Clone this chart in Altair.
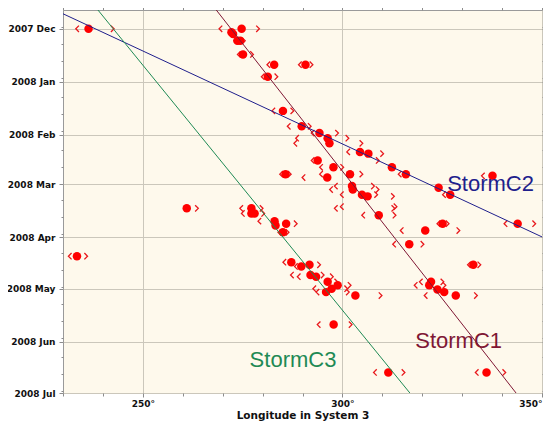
import altair as alt
import pandas as pd

# ---------------- observations: date, System III longitude, bracket limits ----------------
obs_date = [
    "2007-12-01", "2007-12-01", "2007-12-03", "2007-12-04", "2007-12-08",
    "2007-12-08", "2007-12-16", "2007-12-22", "2007-12-22", "2007-12-29",
    "2008-01-18", "2008-01-27", "2008-01-31", "2008-02-03", "2008-02-06",
    "2008-02-11", "2008-02-12", "2008-02-16", "2008-02-20", "2008-02-20",
    "2008-02-24", "2008-02-24", "2008-02-24", "2008-02-26", "2008-03-02",
    "2008-03-04", "2008-03-07", "2008-03-08", "2008-03-19", "2008-03-15",
    "2008-03-14", "2008-03-03", "2008-03-07", "2008-02-25", "2008-03-24",
    "2008-03-24", "2008-03-28", "2008-04-05", "2008-04-17", "2008-04-27",
    "2008-04-29", "2008-05-01T12:00", "2008-05-03", "2008-05-05", "2008-06-19",
    "2008-06-19", "2008-05-22", "2008-05-05", "2008-03-15", "2008-04-12",
    "2008-03-15", "2008-03-18", "2008-03-18", "2008-03-22T12:00", "2008-03-25",
    "2008-03-24", "2008-03-29", "2008-04-15T12:00", "2008-04-18", "2008-04-17",
    "2008-04-23", "2008-04-24", "2008-04-27", "2008-04-29", "2008-05-01",
    "2008-05-03",
]
obs_lon = [
    236.4, 274.75, 272.2, 272.6, 273.7,
    274.4, 275.1, 282.9, 290.75, 281.3,
    285.1, 289.8, 294.25, 296.3, 296.75,
    304.4, 306.5, 293.8, 297.75, 312.4,
    315.9, 285.75, 301.9, 296.2, 302.4,
    302.6, 304.9, 306.3, 309.1, None,
    None, 324.1, 327.0, 337.6, 343.9,
    325.1, 320.75, 316.75, 332.8, 322.2,
    321.75, 323.8, 325.5, 328.4, 311.5,
    336.1, 297.8, 303.25, 261.0, 233.5,
    277.2, 277.2, 278.0, 283.0, 283.25,
    285.9, 285.1, 287.2, 289.7, 291.75,
    292.0, 293.4, 296.3, 298.8, 297.3,
    295.9,
]
obs_lo = [
    233.6, 269.5, None, None, 273.2,
    None, 274.1, 281.5, 289.4, 280.1,
    282.75, 286.6, 292.6, 288.7, 288.25,
    301.5, None, 292.6, 294.7, None,
    314.4, 284.7, 294.7, 290.3, 298.4,
    297.2, 299.9, None, 305.25, 298.4,
    299.9, None, 325.5, 335.25, 340.9,
    324.1, 314.9, 313.0, 331.75, 319.7,
    318.4, None, None, 320.9, 308.2,
    333.7, 294.1, None, None, 231.75,
    274.7, None, 275.1, 279.25, None,
    None, 284.25, 285.5, 288.4, None,
    287.4, 289.1, None, None, 293.0,
    293.8,
]
obs_hi = [
    242.4, 278.8, None, None, None,
    275.25, 277.3, None, 292.2, 283.4,
    287.4, 291.75, 298.6, 301.2, 304.7,
    None, 309.9, 308.8, 299.9, None,
    None, 286.75, 304.7, None, 307.6,
    308.75, 308.4, 312.6, 313.0, 312.7,
    313.25, None, None, None, 348.0,
    326.3, 329.0, 320.0, 334.25, 325.0,
    325.5, None, None, 333.4, 315.25,
    340.5, 302.0, 309.5, 263.5, 235.75,
    279.7, None, 280.1, None, None,
    288.25, 286.2, None, None, 294.1,
    295.0, 297.3, 298.4, 301.75, 300.9,
    301.3,
]

# ---------------- storm drift lines ----------------
storm_names = ["StormC1", "StormC2", "StormC3"]
storm_colors = ["#7f1734", "#1f1f8c", "#1f8a55"]
storm_lon_start = [268.4, 230.0, 238.75]
storm_date_start = ["2007-11-20T00:00", "2007-11-22T05:00", "2007-11-20T00:00"]
storm_lon_end = [343.5, 350.0, 316.9]
storm_date_end = ["2008-07-01T00:00", "2008-03-31T17:00", "2008-07-01T00:00"]
storm_label_lon = [318.25, 326.25, 276.75]
storm_label_date = ["2008-06-04T17:00", "2008-03-04T19:00", "2008-06-16T00:00"]

# ---------------- axis tick values ----------------
x_tick_values = list(range(230, 351, 10))
major_months = [(2007, 12), (2008, 1), (2008, 2), (2008, 3), (2008, 4), (2008, 5), (2008, 6), (2008, 7)]
minor_days = [10, 20, 30]


def local(d):
    return d if "T" in d else d + "T00:00"


obs = pd.DataFrame({
    "date": [local(d) for d in obs_date],
    "lon": obs_lon, "lo": obs_lo, "hi": obs_hi,
})
dots_df = obs.dropna(subset=["lon"])[["date", "lon"]]
lo_df = obs.dropna(subset=["lo"])[["date", "lo"]]
hi_df = obs.dropna(subset=["hi"])[["date", "hi"]]

line_rows = []
for i, n in enumerate(storm_names):
    line_rows.append({"storm": n, "k": 0, "lon": storm_lon_start[i], "date": storm_date_start[i]})
    line_rows.append({"storm": n, "k": 1, "lon": storm_lon_end[i], "date": storm_date_end[i]})
lines_df = pd.DataFrame(line_rows)
labels_df = pd.DataFrame({"storm": storm_names, "lon": storm_label_lon, "date": storm_label_date})

y_tick_values = [alt.DateTime(year=y, month=m, date=1) for (y, m) in major_months]
for (y, m) in [(2007, 11)] + major_months[:-1]:
    for d in minor_days:
        if m == 2 and d == 30:
            continue
        if (y, m) == (2007, 11) and d < 30:
            continue
        y_tick_values.append(alt.DateTime(year=y, month=m, date=d))

MAJ_X = "datum.value % 50 === 0"
MAJ_Y = "date(datum.value) === 1"
TICK_COL = "#8c8c8c"
GRID_COL = "#cbc7bb"
LAB_FONT = "DejaVu Sans"

x_scale = alt.Scale(domain=[230, 350], nice=False, zero=False)
y_scale = alt.Scale(
    domain=[alt.DateTime(year=2007, month=11, date=20), alt.DateTime(year=2008, month=7, date=1)],
    reverse=True, nice=False,
)

x_axis_main = alt.Axis(
    orient="bottom", values=x_tick_values, title="Longitude in System 3",
    labelExpr="datum.value % 50 === 0 ? datum.value + '°' : ''",
    labelFlush=True, labelOverlap=False,
    labelFont=LAB_FONT, labelFontWeight="bold", labelFontSize=9, labelColor="#111111", labelPadding=2,
    titleFont=LAB_FONT, titleFontWeight="bold", titleFontSize=10.5, titleColor="#111111", titlePadding=2,
    domain=False, ticks=True, tickColor=TICK_COL,
    tickSize={"condition": {"test": MAJ_X, "value": 4}, "value": 3},
    grid=True, gridColor=GRID_COL, gridWidth=1,
    gridOpacity={"condition": {"test": MAJ_X, "value": 1}, "value": 0},
)
y_axis_main = alt.Axis(
    orient="left", values=y_tick_values, title=None,
    labelExpr="date(datum.value) === 1 ? timeFormat(datum.value, '%Y %b') : ''",
    labelOverlap=False, labelFlush=False,
    labelFont=LAB_FONT, labelFontWeight="bold", labelFontSize=9, labelColor="#111111", labelPadding=4,
    domain=False, ticks=True, tickColor=TICK_COL,
    tickSize={"condition": {"test": MAJ_Y, "value": 4}, "value": 2},
    grid=True, gridColor=GRID_COL, gridWidth=1,
    gridOpacity={"condition": {"test": MAJ_Y, "value": 1}, "value": 0},
)
x_axis_top = alt.Axis(
    orient="top", values=x_tick_values, title=None, labels=False, domain=False, grid=False,
    ticks=True, tickColor=TICK_COL,
    tickSize={"condition": {"test": MAJ_X, "value": 4}, "value": 3},
)
y_axis_right = alt.Axis(
    orient="right", values=y_tick_values, title=None, labels=False, domain=False, grid=False,
    ticks=True, tickColor=TICK_COL,
    tickSize={"condition": {"test": MAJ_Y, "value": 4}, "value": 2},
)

color_scale = alt.Scale(domain=storm_names, range=storm_colors)

left_br = alt.Chart(lo_df).mark_point(
    shape="M0.5,-1L-0.5,0L0.5,1", filled=False, size=40, strokeWidth=1.3, color="#e8181c", opacity=1
).encode(
    x=alt.X("lo:Q", scale=x_scale, axis=None),
    y=alt.Y("date:T", scale=y_scale, axis=None),
)
right_br = alt.Chart(hi_df).mark_point(
    shape="M-0.5,-1L0.5,0L-0.5,1", filled=False, size=40, strokeWidth=1.3, color="#e8181c", opacity=1
).encode(
    x=alt.X("hi:Q", scale=x_scale, axis=None),
    y=alt.Y("date:T", scale=y_scale, axis=None),
)
dots = alt.Chart(dots_df).mark_circle(size=72, color="#ff0000", opacity=1).encode(
    x=alt.X("lon:Q", scale=x_scale, axis=x_axis_top),
    y=alt.Y("date:T", scale=y_scale, axis=y_axis_right),
)
lines = alt.Chart(lines_df).mark_line(strokeWidth=1, clip=True).encode(
    x=alt.X("lon:Q", scale=x_scale, axis=x_axis_main),
    y=alt.Y("date:T", scale=y_scale, axis=y_axis_main),
    color=alt.Color("storm:N", scale=color_scale, legend=None),
    detail="storm:N",
    order="k:Q",
)
labels = alt.Chart(labels_df).mark_text(
    font="Liberation Sans", fontSize=22, align="left", baseline="alphabetic"
).encode(
    x=alt.X("lon:Q", scale=x_scale, axis=None),
    y=alt.Y("date:T", scale=y_scale, axis=None),
    text="storm:N",
    color=alt.Color("storm:N", scale=color_scale, legend=None),
)

chart = alt.layer(left_br, right_br, dots, lines, labels).resolve_axis(
    x="independent", y="independent"
).properties(
    width=479, height=383,
    autosize=alt.AutoSizeParams(type="none"),
    padding={"left": 55, "top": 2, "right": 1, "bottom": 29},
).configure_view(
    fill="#fef9ec", stroke="#9a9a9a", strokeWidth=1
)

chart.save("out.html", embed_options={"renderer": "svg", "actions": False})
